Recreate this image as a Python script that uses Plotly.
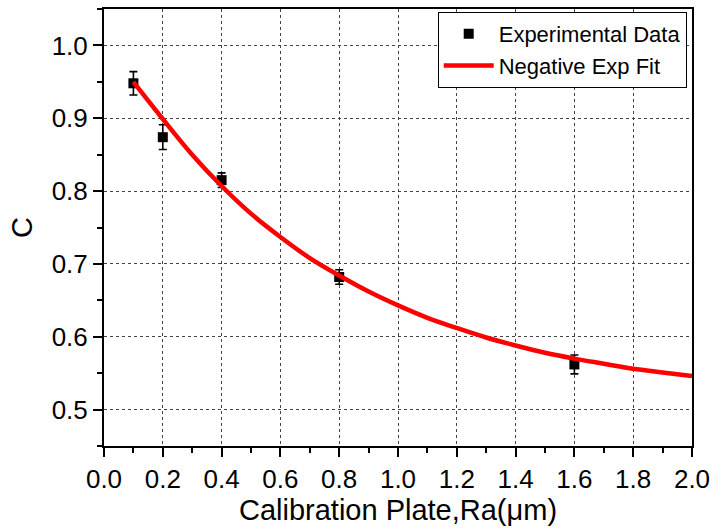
import plotly.graph_objects as go

# Experimental data
ra_exp = [0.1, 0.2, 0.4, 0.8, 1.6]
c_exp = [0.948, 0.874, 0.815, 0.682, 0.562]
c_err = [0.016, 0.017, 0.010, 0.010, 0.013]

# Negative exponential fit curve
ra_fit = [0.1, 0.2, 0.3, 0.4, 0.5, 0.6, 0.7, 0.8, 0.9, 1.0,
          1.1, 1.2, 1.3, 1.4, 1.5, 1.6, 1.7, 1.8, 1.9, 2.0]
c_fit = [0.950, 0.899, 0.850, 0.807, 0.769, 0.737, 0.708, 0.684, 0.662, 0.643,
         0.626, 0.612, 0.599, 0.588, 0.578, 0.570, 0.563, 0.556, 0.551, 0.546]

x_ticks = [0.0, 0.2, 0.4, 0.6, 0.8, 1.0, 1.2, 1.4, 1.6, 1.8, 2.0]
y_ticks = [0.5, 0.6, 0.7, 0.8, 0.9, 1.0]

FONT = "Liberation Sans, Arial, sans-serif"

fig = go.Figure()
fig.add_trace(go.Scatter(
    x=ra_exp, y=c_exp, mode="markers", name="Experimental Data",
    marker=dict(symbol="square", size=10, color="black"),
    error_y=dict(type="data", array=c_err, visible=True, color="black",
                 thickness=1.6, width=4),
))
fig.add_trace(go.Scatter(
    x=ra_fit, y=c_fit, mode="lines", name="Negative Exp Fit",
    line=dict(color="#ff0000", width=4.5, shape="spline"),
))

axis_common = dict(
    showline=True, linecolor="black", linewidth=2, mirror=True,
    ticks="outside", ticklen=9, tickwidth=2, tickcolor="black",
    showgrid=True, gridcolor="#444444", gridwidth=1, griddash="dot",
    zeroline=False,
    tickfont=dict(family=FONT, size=26, color="black"),
)

fig.update_xaxes(
    range=[0.0, 2.0], tickvals=x_ticks,
    ticktext=[f"{v:.1f}" for v in x_ticks],
    title=dict(text="Calibration Plate,Ra(μm)",
               font=dict(family=FONT, size=29, color="black"), standoff=5),
    minor=dict(ticks="outside", ticklen=5, tickwidth=2, tickcolor="black",
               dtick=0.1, showgrid=False),
    **axis_common,
)
fig.update_yaxes(
    range=[0.45, 1.05], tickvals=y_ticks,
    ticktext=[f"{v:.1f}" for v in y_ticks],
    title=dict(text="C", font=dict(family=FONT, size=29, color="black"),
               standoff=10),
    minor=dict(ticks="outside", ticklen=5, tickwidth=2, tickcolor="black",
               dtick=0.05, showgrid=False),
    **axis_common,
)

fig.update_layout(
    width=717, height=531,
    margin=dict(l=104, r=20, t=7, b=85),
    paper_bgcolor="white", plot_bgcolor="white",
    showlegend=True,
    legend=dict(
        x=0.991, y=0.993, xanchor="right", yanchor="top",
        bgcolor="white", bordercolor="black", borderwidth=1,
        font=dict(family=FONT, size=22, color="black"),
        itemwidth=50, tracegroupgap=0,
    ),
)

fig.write_html("out.html")
